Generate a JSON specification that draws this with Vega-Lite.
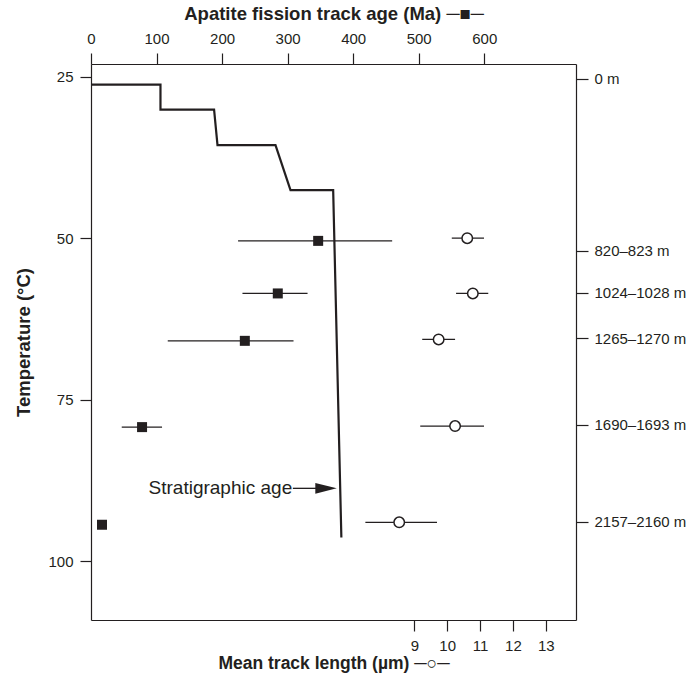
{
  "$schema": "https://vega.github.io/schema/vega-lite/v6.json",
  "width": 485,
  "height": 556,
  "autosize": {"type": "none"},
  "padding": {"left": 91, "top": 64, "right": 117, "bottom": 56},
  "background": "white",
  "config": {
    "view": {"stroke": null},
    "font": "Liberation Sans",
    "axis": {
      "domainColor": "#231f20", "tickColor": "#231f20", "labelColor": "#231f20", "titleColor": "#231f20",
      "domainWidth": 1.2, "tickWidth": 1.2, "tickSize": 11,
      "labelFontSize": 15, "titleFontSize": 18.5, "titleFontWeight": "bold",
      "labelFont": "Liberation Sans", "titleFont": "Liberation Sans", "grid": false
    }
  },
  "datasets": {
    "history": [
      {"step": 1, "age": 0, "temp": 26.18},
      {"step": 2, "age": 106, "temp": 26.18},
      {"step": 3, "age": 106, "temp": 30.05},
      {"step": 4, "age": 187.8, "temp": 30.05},
      {"step": 5, "age": 193, "temp": 35.57},
      {"step": 6, "age": 281.5, "temp": 35.57},
      {"step": 7, "age": 304.4, "temp": 42.54},
      {"step": 8, "age": 369.5, "temp": 42.54},
      {"step": 9, "age": 382, "temp": 96.33}
    ],
    "afta": [
      {"sample": "820–823 m", "age": 346.6, "lo": 224.4, "hi": 459.5, "temp": 50.39},
      {"sample": "1024–1028 m", "age": 285.0, "lo": 231.1, "hi": 330.4, "temp": 58.53},
      {"sample": "1265–1270 m", "age": 234.7, "lo": 117.1, "hi": 309.0, "temp": 65.87},
      {"sample": "1690–1693 m", "age": 77.9, "lo": 46.9, "hi": 108.4, "temp": 79.23},
      {"sample": "2157–2160 m", "age": 16.8, "lo": 16.8, "hi": 16.8, "temp": 94.35}
    ],
    "mtl": [
      {"sample": "820–823 m", "len": 10.61, "lo": 10.14, "hi": 11.12, "temp": 49.97},
      {"sample": "1024–1028 m", "len": 10.78, "lo": 10.27, "hi": 11.25, "temp": 58.53},
      {"sample": "1265–1270 m", "len": 9.74, "lo": 9.24, "hi": 10.24, "temp": 65.65},
      {"sample": "1690–1693 m", "len": 10.24, "lo": 9.18, "hi": 11.12, "temp": 79.07},
      {"sample": "2157–2160 m", "len": 8.54, "lo": 7.51, "hi": 9.69, "temp": 93.98}
    ],
    "note": [
      {"label": "Stratigraphic age", "textAge": 307, "arrowStart": 308, "arrowEnd": 352, "head": 358.6, "temp": 88.71}
    ]
  },
  "layer": [
    {
      "layer": [
        {
          "data": {"name": "history"},
          "mark": {"type": "line", "color": "#231f20", "strokeWidth": 2.2, "strokeCap": "butt", "strokeJoin": "miter"},
          "encoding": {
            "x": {"field": "age", "type": "quantitative", "scale": {"domain": [0, 740], "nice": false, "zero": false},
                  "axis": {"orient": "top", "values": [0, 100, 200, 300, 400, 500, 600], "title": "Apatite fission track age (Ma) ─■─", "labelFlush": false, "labelPadding": 7, "titlePadding": 8, "tickSize": 11}},
            "y": {"field": "temp", "type": "quantitative", "scale": {"domain": [23, 109.1], "reverse": true, "nice": false, "zero": false},
                  "axis": {"orient": "left", "values": [25, 50, 75, 100], "title": "Temperature (°C)", "labelPadding": 7, "titlePadding": 14, "tickSize": 11}},
            "order": {"field": "step", "type": "quantitative"}
          }
        },
        {
          "data": {"name": "afta"},
          "mark": {"type": "rule", "color": "#231f20", "strokeWidth": 1.3},
          "encoding": {
            "x": {"field": "lo", "type": "quantitative", "scale": {"domain": [0, 740], "nice": false, "zero": false},
                  "axis": {"orient": "top", "values": [0, 100, 200, 300, 400, 500, 600], "title": "Apatite fission track age (Ma) ─■─", "labelFlush": false, "labelPadding": 7, "titlePadding": 8, "tickSize": 11}},
            "x2": {"field": "hi"},
            "y": {"field": "temp", "type": "quantitative", "scale": {"domain": [23, 109.1], "reverse": true, "nice": false, "zero": false},
                  "axis": {"orient": "left", "values": [25, 50, 75, 100], "title": "Temperature (°C)", "labelPadding": 7, "titlePadding": 14, "tickSize": 11}}
          }
        },
        {
          "data": {"name": "afta"},
          "mark": {"type": "point", "shape": "square", "filled": true, "color": "#231f20", "opacity": 1, "size": 100},
          "encoding": {
            "x": {"field": "age", "type": "quantitative", "scale": {"domain": [0, 740], "nice": false, "zero": false},
                  "axis": {"orient": "top", "values": [0, 100, 200, 300, 400, 500, 600], "title": "Apatite fission track age (Ma) ─■─", "labelFlush": false, "labelPadding": 7, "titlePadding": 8, "tickSize": 11}},
            "y": {"field": "temp", "type": "quantitative", "scale": {"domain": [23, 109.1], "reverse": true, "nice": false, "zero": false},
                  "axis": {"orient": "left", "values": [25, 50, 75, 100], "title": "Temperature (°C)", "labelPadding": 7, "titlePadding": 14, "tickSize": 11}}
          }
        },
        {
          "data": {"name": "note"},
          "mark": {"type": "text", "align": "right", "baseline": "middle", "fontSize": 19, "color": "#231f20", "font": "Liberation Sans"},
          "encoding": {
            "x": {"field": "textAge", "type": "quantitative", "scale": {"domain": [0, 740], "nice": false, "zero": false},
                  "axis": {"orient": "top", "values": [0, 100, 200, 300, 400, 500, 600], "title": "Apatite fission track age (Ma) ─■─", "labelFlush": false, "labelPadding": 7, "titlePadding": 8, "tickSize": 11}},
            "y": {"field": "temp", "type": "quantitative", "scale": {"domain": [23, 109.1], "reverse": true, "nice": false, "zero": false},
                  "axis": {"orient": "left", "values": [25, 50, 75, 100], "title": "Temperature (°C)", "labelPadding": 7, "titlePadding": 14, "tickSize": 11}},
            "text": {"field": "label"}
          }
        },
        {
          "data": {"name": "note"},
          "mark": {"type": "rule", "color": "#231f20", "strokeWidth": 1.3},
          "encoding": {
            "x": {"field": "arrowStart", "type": "quantitative", "scale": {"domain": [0, 740], "nice": false, "zero": false},
                  "axis": {"orient": "top", "values": [0, 100, 200, 300, 400, 500, 600], "title": "Apatite fission track age (Ma) ─■─", "labelFlush": false, "labelPadding": 7, "titlePadding": 8, "tickSize": 11}},
            "x2": {"field": "arrowEnd"},
            "y": {"field": "temp", "type": "quantitative", "scale": {"domain": [23, 109.1], "reverse": true, "nice": false, "zero": false},
                  "axis": {"orient": "left", "values": [25, 50, 75, 100], "title": "Temperature (°C)", "labelPadding": 7, "titlePadding": 14, "tickSize": 11}}
          }
        },
        {
          "data": {"name": "note"},
          "mark": {"type": "point", "shape": "M-1,-0.5L1,0L-1,0.5Z", "filled": true, "color": "#231f20", "opacity": 1, "size": 460},
          "encoding": {
            "x": {"field": "head", "type": "quantitative", "scale": {"domain": [0, 740], "nice": false, "zero": false},
                  "axis": {"orient": "top", "values": [0, 100, 200, 300, 400, 500, 600], "title": "Apatite fission track age (Ma) ─■─", "labelFlush": false, "labelPadding": 7, "titlePadding": 8, "tickSize": 11}},
            "y": {"field": "temp", "type": "quantitative", "scale": {"domain": [23, 109.1], "reverse": true, "nice": false, "zero": false},
                  "axis": {"orient": "left", "values": [25, 50, 75, 100], "title": "Temperature (°C)", "labelPadding": 7, "titlePadding": 14, "tickSize": 11}}
          }
        }
      ]
    },
    {
      "layer": [
        {
          "data": {"name": "mtl"},
          "mark": {"type": "rule", "color": "#231f20", "strokeWidth": 1.3},
          "encoding": {
            "x": {"field": "lo", "type": "quantitative", "scale": {"domain": [-0.84, 13.92], "nice": false, "zero": false},
                  "axis": {"orient": "bottom", "values": [9, 10, 11, 12, 13], "title": "Mean track length (µm) ─○─", "titleFontSize": 17.5, "labelFlush": false, "labelPadding": 7, "titlePadding": 1, "tickSize": 11}},
            "x2": {"field": "hi"},
            "y": {"field": "temp", "type": "quantitative", "scale": {"domain": [23, 109.1], "reverse": true, "nice": false, "zero": false},
                  "axis": {"orient": "right", "values": [25.25, 51.9, 58.4, 65.5, 78.9, 93.9], "title": null, "labelPadding": 6, "tickSize": 12,
                           "labelExpr": "datum.value < 30 ? '0 m' : datum.value < 55 ? '820–823 m' : datum.value < 62 ? '1024–1028 m' : datum.value < 70 ? '1265–1270 m' : datum.value < 85 ? '1690–1693 m' : '2157–2160 m'"}}
          }
        },
        {
          "data": {"name": "mtl"},
          "mark": {"type": "point", "shape": "circle", "filled": true, "fill": "white", "stroke": "#231f20", "strokeWidth": 1.5, "opacity": 1, "size": 110},
          "encoding": {
            "x": {"field": "len", "type": "quantitative", "scale": {"domain": [-0.84, 13.92], "nice": false, "zero": false},
                  "axis": {"orient": "bottom", "values": [9, 10, 11, 12, 13], "title": "Mean track length (µm) ─○─", "titleFontSize": 17.5, "labelFlush": false, "labelPadding": 7, "titlePadding": 1, "tickSize": 11}},
            "y": {"field": "temp", "type": "quantitative", "scale": {"domain": [23, 109.1], "reverse": true, "nice": false, "zero": false},
                  "axis": {"orient": "right", "values": [25.25, 51.9, 58.4, 65.5, 78.9, 93.9], "title": null, "labelPadding": 6, "tickSize": 12,
                           "labelExpr": "datum.value < 30 ? '0 m' : datum.value < 55 ? '820–823 m' : datum.value < 62 ? '1024–1028 m' : datum.value < 70 ? '1265–1270 m' : datum.value < 85 ? '1690–1693 m' : '2157–2160 m'"}}
          }
        }
      ]
    }
  ],
  "resolve": {
    "scale": {"x": "independent", "y": "independent"},
    "axis": {"x": "independent", "y": "independent"}
  }
}
